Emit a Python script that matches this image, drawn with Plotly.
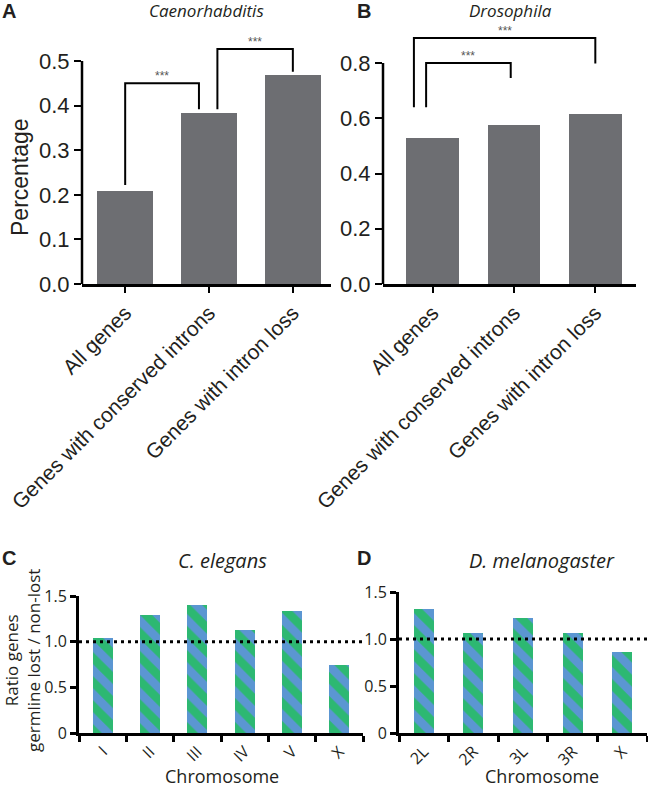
import plotly.graph_objects as go

# ---------------- data ----------------
gene_groups = ["All genes", "Genes with conserved introns", "Genes with intron loss"]
caeno_pct = [0.209, 0.383, 0.469]
droso_pct = [0.528, 0.575, 0.616]

ce_chrom = ["I", "II", "III", "IV", "V", "X"]
ce_ratio = [1.038, 1.292, 1.405, 1.132, 1.336, 0.745]
dm_chrom = ["2L", "2R", "3L", "3R", "X"]
dm_ratio = [1.324, 1.069, 1.225, 1.069, 0.858]

caeno_ticks = [0.0, 0.1, 0.2, 0.3, 0.4, 0.5]
droso_ticks = [0.0, 0.2, 0.4, 0.6, 0.8]
ratio_ticks = [0, 0.5, 1.0, 1.5]
ratio_ticktext = ["0", "0.5", "1.0", "1.5"]
ref_ratio = 1.0

# significance brackets: (x_left, x_right, top, left_bottom, right_bottom, label)
caeno_brackets = [(0.0, 0.88, 0.45, 0.222, 0.392, "***"),
                  (1.1, 2.0, 0.527, 0.392, 0.476, "***")]
droso_brackets = [(-0.08, 0.96, 0.80, 0.640, 0.746, "***"),
                  (-0.23, 2.0, 0.891, 0.640, 0.798, "***")]

GRAY = "#6d6e72"
BLUE = "#5b96d2"
GREEN = "#2db872"
ARIAL = "Liberation Sans"
MYRIAD = "Open Sans"
W, H = 648, 787

fig = go.Figure()
fig.add_trace(go.Bar(x=gene_groups, y=caeno_pct, xaxis="x", yaxis="y",
                     marker=dict(color=GRAY, line=dict(width=0)), width=0.67))
fig.add_trace(go.Bar(x=gene_groups, y=droso_pct, xaxis="x2", yaxis="y2",
                     marker=dict(color=GRAY, line=dict(width=0)), width=0.65))
pat = dict(shape="\\", fgcolor=GREEN, bgcolor=BLUE, solidity=0.5, size=17, fillmode="replace")
fig.add_trace(go.Bar(x=ce_chrom, y=ce_ratio, xaxis="x3", yaxis="y3",
                     marker=dict(color=BLUE, pattern=pat, line=dict(width=0)), width=0.42))
fig.add_trace(go.Bar(x=dm_chrom, y=dm_ratio, xaxis="x4", yaxis="y4",
                     marker=dict(color=BLUE, pattern=pat, line=dict(width=0)), width=0.40))

def px_x(p):
    return p / W

def px_y(p):
    return 1 - p / H

xab = dict(showline=True, linecolor="black", linewidth=2.5, ticks="outside", ticklen=6,
           tickwidth=2, tickcolor="black", tickangle=-45, automargin=False,
           tickfont=dict(family=ARIAL, size=21, color="#231f20"),
           showgrid=False, zeroline=False, fixedrange=True)
yab = dict(showline=False, ticks="outside", ticklen=7, tickwidth=2, tickcolor="black",
           tickfont=dict(family=ARIAL, size=22, color="#231f20"), tickformat=".1f",
           showgrid=False, zeroline=False, tickmode="array", automargin=False)
xcd = dict(showline=True, linecolor="black", linewidth=3, ticks="outside", ticklen=6,
           tickwidth=3, tickcolor="black", tickangle=-45, tickson="boundaries",
           tickfont=dict(family=MYRIAD, size=16, color="#231f20"),
           showgrid=False, zeroline=False, automargin=False)
ycd = dict(showline=True, linecolor="black", linewidth=3, ticks="outside", ticklen=6,
           tickwidth=3, tickcolor="black", range=[0, 1.5], tickmode="array",
           tickvals=ratio_ticks, ticktext=ratio_ticktext,
           tickfont=dict(family=MYRIAD, size=16, color="#231f20"),
           showgrid=False, zeroline=False, automargin=False)

fig.update_layout(
    width=W, height=H, margin=dict(l=0, r=0, t=0, b=0, autoexpand=False),
    paper_bgcolor="white", plot_bgcolor="white", showlegend=False, bargap=0,
    xaxis=dict(xab, domain=[px_x(82), px_x(331)], range=[-0.515, 2.455], anchor="y"),
    yaxis=dict(yab, domain=[px_y(284), px_y(43.2)], range=[0, 0.54], tickvals=caeno_ticks, anchor="x"),
    xaxis2=dict(xab, domain=[px_x(383), px_x(636)], range=[-0.61, 2.50], anchor="y2"),
    yaxis2=dict(yab, domain=[px_y(284), px_y(35.4)], range=[0, 0.9], tickvals=droso_ticks, anchor="x2"),
    xaxis3=dict(xcd, domain=[px_x(79), px_x(363)], range=[-0.5, 5.5], anchor="y3"),
    yaxis3=dict(ycd, domain=[px_y(733), px_y(596)], anchor="x3"),
    xaxis4=dict(xcd, domain=[px_x(399), px_x(647)], range=[-0.5, 4.5], anchor="y4"),
    yaxis4=dict(ycd, domain=[px_y(733), px_y(592)], anchor="x4"),
)

shapes = []
annots = []
# manual y-axis lines for A and B (stop at top tick)
shapes.append(dict(type="line", xref="x domain", yref="y", x0=0, x1=0, y0=0, y1=caeno_ticks[-1],
                   line=dict(color="black", width=2.5)))
shapes.append(dict(type="line", xref="x2 domain", yref="y2", x0=0, x1=0, y0=0, y1=droso_ticks[-1],
                   line=dict(color="black", width=2.5)))

def add_brackets(brs, xr, yr):
    for xl, xrr, top, lb, rb, lab in brs:
        shapes.append(dict(type="path", xref=xr, yref=yr,
                           path=f"M {xl},{lb} L {xl},{top} L {xrr},{top} L {xrr},{rb}",
                           line=dict(color="black", width=2)))
        annots.append(dict(x=(xl + xrr) / 2, y=top, xref=xr, yref=yr, text=lab,
                           showarrow=False, yanchor="bottom", yshift=-2,
                           font=dict(family=ARIAL, size=12, color="#555555")))

add_brackets(caeno_brackets, "x", "y")
add_brackets(droso_brackets, "x2", "y2")

# dotted reference lines
shapes.append(dict(type="line", xref="x3 domain", yref="y3", x0=0, x1=1, y0=ref_ratio, y1=ref_ratio,
                   line=dict(color="black", width=3, dash="3px,4px")))
shapes.append(dict(type="line", xref="x4 domain", yref="y4", x0=0, x1=1, y0=ref_ratio, y1=ref_ratio,
                   line=dict(color="black", width=3, dash="3px,4px")))

def txt(x, y, s, size, family=ARIAL, italic=False, bold=False, angle=0, color="#231f20"):
    annots.append(dict(x=px_x(x), y=px_y(y), xref="paper", yref="paper", text=s,
                       showarrow=False, xanchor="center", yanchor="middle", textangle=angle,
                       font=dict(family=family, size=size, color=color,
                                 style="italic" if italic else "normal",
                                 weight="bold" if bold else "normal")))

txt(9, 11, "A", 20, bold=True)
txt(206, 11, "Caenorhabditis", 17, family=MYRIAD, italic=True)
txt(364, 11, "B", 20, bold=True)
txt(511, 11, "Drosophila", 17, family=MYRIAD, italic=True)
txt(20, 177, "Percentage", 23, angle=-90)

txt(9, 558, "C", 20, bold=True)
txt(222, 560, "C. elegans", 20, family=MYRIAD, italic=True)
txt(364, 558, "D", 20, bold=True)
txt(542, 560, "D. melanogaster", 20, family=MYRIAD, italic=True)
txt(22, 661, "Ratio genes<br>germline lost / non-lost", 17, family=MYRIAD, angle=-90)
txt(222, 776, "Chromosome", 18, family=MYRIAD)
txt(542, 776, "Chromosome", 18, family=MYRIAD)

fig.update_layout(shapes=shapes, annotations=annots)
fig.write_html("out.html", config={"displayModeBar": False, "staticPlot": True},
               post_script="document.body.style.margin='0px';document.body.style.overflow='hidden';")
